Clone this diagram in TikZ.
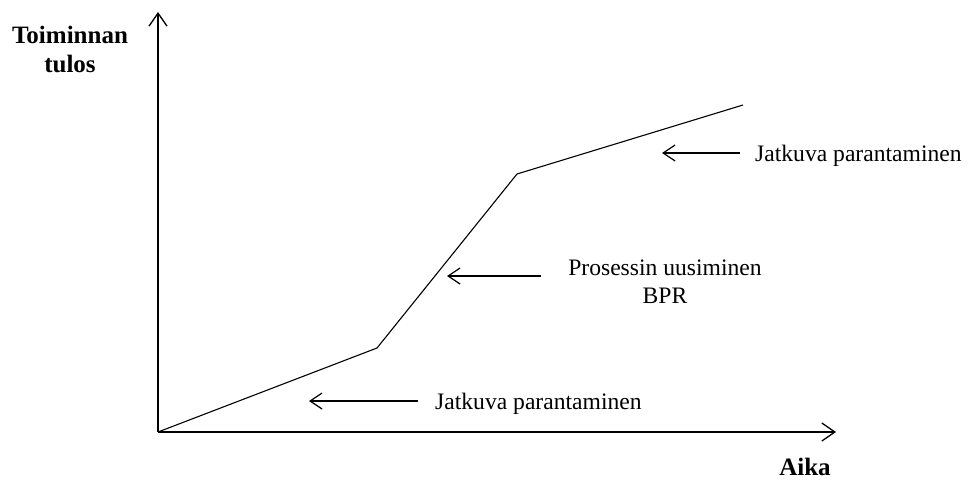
\documentclass[tikz,border=0pt]{standalone}
\usepackage{fontspec}
\setmainfont{Liberation Serif}
\usetikzlibrary{arrows.meta}
\begin{document}
\begin{tikzpicture}[x=1pt,y=-1pt,
  axis/.style={line width=1.5pt,-{Straight Barb[length=13pt,width=18pt,line width=1.3pt]}},
  curve/.style={line width=1.1pt},
  pointer/.style={line width=1.2pt,-{Straight Barb[length=12pt,width=16pt,line width=1.2pt]}},
  lbl/.style={font=\fontsize{23.6}{28}\selectfont,inner sep=0pt,align=center},
  axlbl/.style={font=\fontsize{25}{29}\selectfont\bfseries,inner sep=0pt,align=center}]
\useasboundingbox[fill=white] (0,0) rectangle (969,485);
% axes
\coordinate (o) at (158,432);
\coordinate (ytop) at (158,12);
\coordinate (xend) at (836,432);
\draw[axis] (o) -- (ytop);
\draw[axis] (o) -- (xend);
% performance curve
\coordinate (k1) at (377,348);
\coordinate (k2) at (517,174);
\coordinate (k3) at (743,105);
\draw[curve] (o) -- (k1) -- (k2) -- (k3);
% labels
\node[axlbl] (ylab) at (70,49) {Toiminnan\\tulos};
\node[axlbl] (xlab) at (805,467) {Aika};
\node[lbl,anchor=west] (l1) at (435,404) {Jatkuva parantaminen};
\node[lbl] (l2) at (665,282) {Prosessin uusiminen\\BPR};
\node[lbl,anchor=west] (l3) at (755,156) {Jatkuva parantaminen};
% pointers
\coordinate (p1) at (309,401);
\coordinate (p2) at (447,276);
\coordinate (p3) at (662,153);
\draw[pointer] (418,401) coordinate (s1) -- (p1);
\draw[pointer] (541,276) coordinate (s2) -- (p2);
\draw[pointer] (740,153) coordinate (s3) -- (p3);
\end{tikzpicture}
\end{document}
